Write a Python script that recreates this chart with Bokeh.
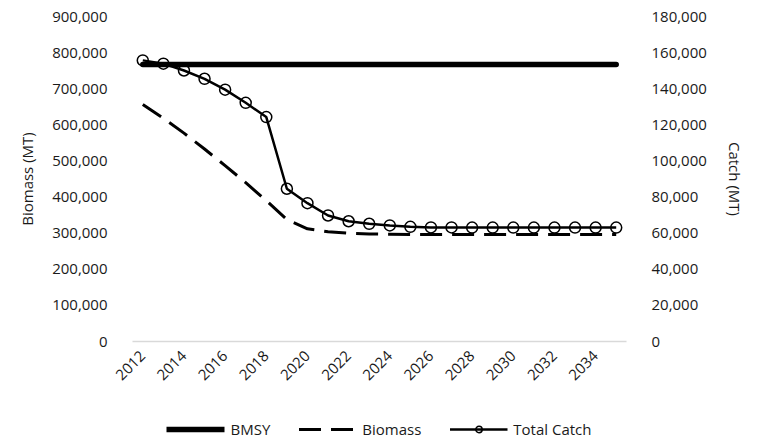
import math
from bokeh.plotting import figure
from bokeh.layouts import column
from bokeh.models import (Range1d, LinearAxis, FixedTicker, NumeralTickFormatter,
                          Legend, LegendItem, ColumnDataSource)
from bokeh.embed import file_html
from bokeh.resources import INLINE

years = list(range(2012, 2036))
bmsy = [767000] * len(years)
biomass = [656000, 618000, 577000, 533000, 487000, 440000, 390000, 338000,
           312000, 304000, 300000, 298000, 297000, 296000, 296000, 296000,
           296000, 296000, 296000, 296000, 296000, 296000, 296000, 296000]
catch = [155700, 153900, 150100, 145500, 139500, 132200, 124300, 84600,
         76600, 69800, 66600, 65200, 64300, 63500, 63200, 63200,
         63100, 63100, 63100, 63100, 63100, 63100, 63100, 63100]
x_ticks = list(range(2012, 2036, 2))
left_ticks = list(range(0, 900001, 100000))
right_ticks = list(range(0, 180001, 20000))
series_names = ["BMSY", "Biomass", "Total Catch"]

FONT = "Open Sans"
FS = "15px"
TXT = "#1a1a1a"

BMSY_STYLE = dict(line_color="black", line_width=5.5, line_cap="round")
BIO_STYLE = dict(line_color="black", line_width=3, line_dash="22 10")
CATCH_STYLE = dict(line_color="black", line_width=2.5)
PTS_STYLE = dict(marker="circle", size=11, fill_color=None, line_color="black",
                 line_width=1.5)

src = ColumnDataSource(dict(year=years, bmsy=bmsy, biomass=biomass, catch=catch))

p = figure(width=758, height=412, output_backend="svg", toolbar_location=None,
           x_range=Range1d(2011.5, 2035.5), y_range=Range1d(0, 900000),
           min_border_left=132, min_border_right=132, min_border_top=16,
           min_border_bottom=71)
p.outline_line_color = None
p.xgrid.visible = False
p.ygrid.visible = False
p.extra_y_ranges = {"catch": Range1d(0, 180000)}

p.line("year", "bmsy", source=src, **BMSY_STYLE)
p.line("year", "biomass", source=src, **BIO_STYLE)
p.line("year", "catch", source=src, y_range_name="catch", **CATCH_STYLE)
p.scatter("year", "catch", source=src, y_range_name="catch", **PTS_STYLE)

# x axis
xa = p.xaxis[0]
xa.ticker = FixedTicker(ticks=x_ticks)
xa.major_label_orientation = math.pi / 4
xa.axis_line_color = "#d9d9d9"
xa.axis_line_width = 1.5
xa.major_tick_line_color = None
xa.minor_tick_line_color = None
xa.major_label_text_font = FONT
xa.major_label_text_font_size = FS
xa.major_label_text_color = TXT
xa.major_label_standoff = 6

# left axis
ya = p.yaxis[0]
ya.ticker = FixedTicker(ticks=left_ticks)
ya.formatter = NumeralTickFormatter(format="0,0")
ya.axis_line_color = None
ya.major_tick_line_color = None
ya.minor_tick_line_color = None
ya.major_label_standoff = 19
ya.major_label_text_font = FONT
ya.major_label_text_font_size = FS
ya.major_label_text_color = TXT
ya.axis_label = "Biomass (MT)"
ya.axis_label_text_font = FONT
ya.axis_label_text_font_size = FS
ya.axis_label_text_font_style = "normal"
ya.axis_label_text_color = TXT
ya.axis_label_standoff = 12

# right axis
ra = LinearAxis(y_range_name="catch", ticker=FixedTicker(ticks=right_ticks),
                formatter=NumeralTickFormatter(format="0,0"))
ra.axis_line_color = None
ra.major_tick_line_color = None
ra.minor_tick_line_color = None
ra.major_label_standoff = 19
ra.major_label_text_font = FONT
ra.major_label_text_font_size = FS
ra.major_label_text_color = TXT
ra.axis_label = "Catch (MT)"
ra.axis_label_text_font = FONT
ra.axis_label_text_font_size = FS
ra.axis_label_text_font_style = "normal"
ra.axis_label_text_color = TXT
ra.axis_label_standoff = 15
p.add_layout(ra, "right")

# legend strip: a small figure whose renderers share the data but whose
# ranges keep the marks out of view, so only the legend shows
lp = figure(width=758, height=33, output_backend="svg", toolbar_location=None,
            min_border=0, x_range=Range1d(0, 1), y_range=Range1d(0, 1))
lp.axis.visible = False
lp.grid.visible = False
lp.outline_line_color = None
l1 = lp.line("year", "bmsy", source=src, **BMSY_STYLE)
l2 = lp.line("year", "biomass", source=src, **BIO_STYLE)
l3 = lp.line("year", "catch", source=src, **CATCH_STYLE)
l4 = lp.scatter("year", "catch", source=src, **dict(PTS_STYLE, size=8))

legend = Legend(items=[
    LegendItem(label=series_names[0], renderers=[l1]),
    LegendItem(label=series_names[1], renderers=[l2]),
    LegendItem(label=series_names[2], renderers=[l3, l4]),
], orientation="horizontal", location="center")
legend.border_line_color = None
legend.background_fill_alpha = 0
legend.label_text_font = FONT
legend.label_text_font_size = FS
legend.label_text_color = TXT
legend.glyph_width = 58
legend.glyph_height = 16
legend.label_standoff = 6
legend.spacing = 28
legend.padding = 0
legend.margin = 0
lp.add_layout(legend)

layout = column(p, lp, spacing=0)
open("out.html", "w").write(file_html(layout, INLINE))
